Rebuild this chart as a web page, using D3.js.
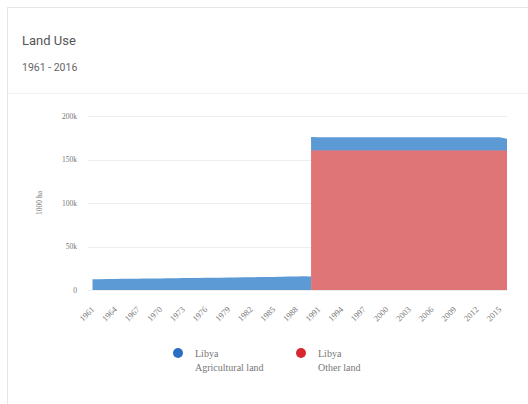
<!DOCTYPE html>
<html>
<head>
<meta charset="utf-8">
<script src="https://cdnjs.cloudflare.com/ajax/libs/d3/7.8.5/d3.min.js"></script>
<style>
  body { margin: 0; background: #fff; }
  svg { display: block; }
</style>
</head>
<body>
<script>
// years on the x axis
var years = d3.range(1961, 2017);
// Libya - agricultural land (1000 ha)
var agriLand = [12.4,12.5,12.6,12.7,12.8,12.9,13.0,13.1,13.2,13.3,13.5,13.6,13.7,13.8,13.9,14.0,14.1,14.2,14.4,14.5,14.6,14.7,14.8,14.9,15.0,15.2,15.4,15.6,15.8,15.5,
  15.4,15.4,15.4,15.4,15.4,15.4,15.4,15.4,15.4,15.4,15.4,15.4,15.4,15.4,15.4,15.4,15.4,15.4,15.4,15.4,15.4,15.4,15.4,15.4,15.3,13.6].map(v => v * 1000);
// Libya - other land (1000 ha), no data before 1990
var otherLand = [null,null,null,null,null,null,null,null,null,null,null,null,null,null,null,null,null,null,null,null,null,null,null,null,null,null,null,null,null,
  160.3,160.3,160.3,160.3,160.3,160.3,160.3,160.3,160.3,160.3,160.3,160.3,160.3,160.3,160.3,160.3,160.3,160.3,160.3,160.3,160.3,160.3,160.3,160.3,160.3,160.3,160.3,160.3].map(v => v == null ? null : v * 1000);
var xTicks = d3.range(1961, 2016, 3);
var yTicks = [0, 50000, 100000, 150000, 200000];
var yTickLabels = ['0', '50k', '100k', '150k', '200k'];
var legendItems = [
  { country: 'Libya', name: 'Agricultural land', color: '#2b6dc3' },
  { country: 'Libya', name: 'Other land', color: '#d8282f' }
];

var w = 528, h = 404;
var svg = d3.select('body').append('svg')
  .attr('width', w)
  .attr('height', h);

// card
svg.append('rect')
  .attr('x', 7.5).attr('y', 7.5)
  .attr('width', w + 10).attr('height', h + 10)
  .attr('fill', '#fff')
  .attr('stroke', '#e6e6e6');
svg.append('line')
  .attr('x1', 8).attr('x2', w)
  .attr('y1', 93.5).attr('y2', 93.5)
  .attr('stroke', '#f2f2f2');

svg.append('text')
  .attr('x', 22).attr('y', 45)
  .attr('font-family', 'Roboto, sans-serif')
  .attr('font-size', 13)
  .attr('fill', '#555')
  .text('Land Use');
svg.append('text')
  .attr('x', 22).attr('y', 71)
  .attr('font-family', 'Roboto, sans-serif')
  .attr('font-size', 10.5)
  .attr('fill', '#666')
  .text('1961 - 2016');

// SCALES
var xScale = d3.scaleLinear()
  .domain([1961, 2016])
  .range([92.5, 507]);
var yScale = d3.scaleLinear()
  .domain([0, 200000])
  .range([290, 116]);

// grid lines
svg.append('g')
  .selectAll('line')
  .data(yTicks)
  .enter()
  .append('line')
    .attr('x1', 88).attr('x2', 507)
    .attr('y1', d => Math.round(yScale(d)) + 0.5)
    .attr('y2', d => Math.round(yScale(d)) + 0.5)
    .attr('stroke', '#eeeeee');

// y axis
var yAxis = d3.axisLeft(yScale)
  .tickValues(yTicks)
  .tickFormat((d, i) => yTickLabels[i])
  .tickSize(0)
  .tickPadding(0);
svg.append('g')
  .attr('transform', 'translate(77,0)')
  .call(yAxis)
  .call(g => g.select('.domain').remove())
  .selectAll('text')
    .attr('font-family', '"Liberation Serif", serif')
    .attr('font-size', 7.5)
    .attr('fill', '#777');

svg.append('text')
  .attr('transform', 'translate(42,' + 203 + ')rotate(-90)')
  .style('text-anchor', 'middle')
  .attr('font-family', '"Liberation Serif", serif')
  .attr('font-size', 7.5)
  .attr('fill', '#777')
  .text('1000 ha');

// AREAS
var rows = years.map((y, i) => ({ year: y, agri: agriLand[i], other: otherLand[i] }));

// other land (bottom of stack where present)
var otherArea = d3.area()
  .defined(d => d.other != null)
  .x(d => xScale(d.year))
  .y0(yScale(0))
  .y1(d => yScale(d.other));
svg.append('path')
  .datum(rows)
  .attr('d', otherArea)
  .attr('fill', '#e07577');

// agricultural land: before other land data stacked on zero, afterwards on top of other land
var agriArea = d3.area()
  .x(d => xScale(d.year))
  .y0(d => yScale(d.base))
  .y1(d => yScale(d.base + d.agri));
var firstOther = otherLand.findIndex(v => v != null);
var agriBefore = rows.slice(0, firstOther + 1).map(d => ({ year: d.year, agri: d.agri, base: 0 }));
var agriAfter = rows.slice(firstOther).map(d => ({ year: d.year, agri: d.agri, base: d.other }));
svg.append('path')
  .datum(agriBefore)
  .attr('d', agriArea)
  .attr('fill', '#5c9ad6');
svg.append('path')
  .datum(agriAfter)
  .attr('d', agriArea)
  .attr('fill', '#5c9ad6');
svg.append('path')
  .datum(agriAfter)
  .attr('d', d3.line().x(d => xScale(d.year)).y(d => yScale(d.base)))
  .attr('fill', 'none')
  .attr('stroke', '#b8646e')
  .attr('stroke-width', 0.8)
  .attr('stroke-opacity', 0.6);

// x axis
var xAxis = d3.axisBottom(xScale)
  .tickValues(xTicks)
  .tickFormat(d3.format('d'))
  .tickSize(0)
  .tickPadding(0);
svg.append('g')
  .attr('transform', 'translate(0,306)')
  .call(xAxis)
  .call(g => g.select('.domain').remove())
  .selectAll('text')
    .attr('font-family', '"Liberation Serif", serif')
    .attr('font-size', 8.5)
    .attr('fill', '#777')
    .attr('dy', 0)
    .attr('transform', 'translate(2,4)rotate(-45)')
    .style('text-anchor', 'end');

// LEGEND
var legend = svg.append('g')
  .selectAll('g')
  .data(legendItems)
  .enter()
  .append('g')
    .attr('transform', (d, i) => 'translate(' + (178 + i * 123) + ',353)');
legend.append('circle')
  .attr('r', 5)
  .attr('fill', d => d.color);
legend.append('text')
  .attr('x', 17).attr('y', 4)
  .attr('font-family', '"Liberation Serif", serif')
  .attr('font-size', 10)
  .attr('fill', '#777')
  .text(d => d.country);
legend.append('text')
  .attr('x', 17).attr('y', 18)
  .attr('font-family', '"Liberation Serif", serif')
  .attr('font-size', 10)
  .attr('fill', '#777')
  .text(d => d.name);
</script>
</body>
</html>
